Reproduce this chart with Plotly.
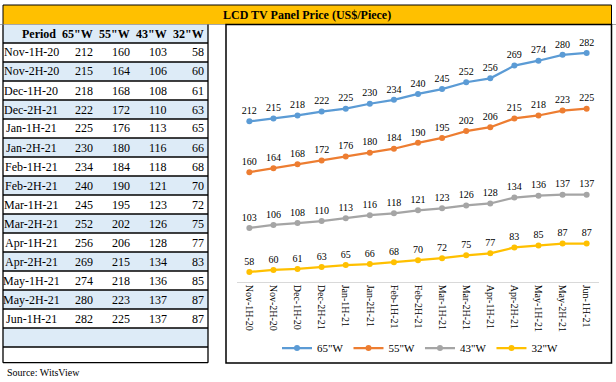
import plotly.graph_objects as go

W, H = 616, 382

periods = ["Nov-1H-20", "Nov-2H-20", "Dec-1H-20", "Dec-2H-21", "Jan-1H-21", "Jan-2H-21",
           "Feb-1H-21", "Feb-2H-21", "Mar-1H-21", "Mar-2H-21", "Apr-1H-21", "Apr-2H-21",
           "May-1H-21", "May-2H-21", "Jun-1H-21"]
series_names = ['65"W', '55"W', '43"W', '32"W']
v65 = [212, 215, 218, 222, 225, 230, 234, 240, 245, 252, 256, 269, 274, 280, 282]
v55 = [160, 164, 168, 172, 176, 180, 184, 190, 195, 202, 206, 215, 218, 223, 225]
v43 = [103, 106, 108, 110, 113, 116, 118, 121, 123, 126, 128, 134, 136, 137, 137]
v32 = [58, 60, 61, 63, 65, 66, 68, 70, 72, 75, 77, 83, 85, 87, 87]
colors = ["#5B9BD5", "#ED7D31", "#A5A5A5", "#FFC000"]
title_text = "LCD TV Panel Price (US$/Piece)"
source_text = "Source: WitsView"

SERIF = "Liberation Serif, Times New Roman, serif"


def px(x):
    return x / W


def py(y):
    return 1 - y / H


fig = go.Figure()
for name, vals, col in zip(series_names, [v65, v55, v43, v32], colors):
    fig.add_trace(go.Scatter(
        x=periods, y=vals, name=name, mode="lines+markers+text",
        line=dict(color=col, width=2.25),
        marker=dict(color=col, size=6),
        text=[str(v) for v in vals], textposition="top center",
        textfont=dict(family=SERIF, size=10, color="black"),
        cliponaxis=False,
    ))

shapes = []
annotations = []

# Banner
shapes.append(dict(type="rect", xref="paper", yref="paper",
                   x0=px(3), x1=px(611.5), y0=py(24.5), y1=py(5),
                   fillcolor="#FFC000", line=dict(color="black", width=1), layer="below"))
shapes.append(dict(type="line", xref="paper", yref="paper",
                   x0=0, x1=1, y0=py(24.5), y1=py(24.5),
                   line=dict(color="#A6A6A6", width=1)))
annotations.append(dict(xref="paper", yref="paper", x=px(307), y=py(15),
                        text="<b>" + title_text + "</b>", showarrow=False,
                        font=dict(family=SERIF, size=12, color="black"),
                        xanchor="center", yanchor="middle"))

# Table
tl, tr = 3, 208
header_top, header_bot = 24.5, 43
row_h = 19
nrows = len(periods) + 2
row_edges = [header_top, header_bot] + [header_bot + row_h * (i + 1) for i in range(nrows)]
row_edges[-1] = 362.7
blue = "#DDEBF7"
shapes.append(dict(type="rect", xref="paper", yref="paper", x0=px(tl), x1=px(tr),
                   y0=py(header_bot), y1=py(header_top), fillcolor=blue,
                   line=dict(width=0), layer="below"))
for i in range(nrows):
    y0, y1 = row_edges[i + 1], row_edges[i + 2]
    if i % 2 == 1:
        shapes.append(dict(type="rect", xref="paper", yref="paper", x0=px(tl), x1=px(tr),
                           y0=py(y1), y1=py(y0), fillcolor=blue,
                           line=dict(width=0), layer="below"))
for e in row_edges[1:]:
    shapes.append(dict(type="line", xref="paper", yref="paper", x0=px(tl), x1=px(tr),
                       y0=py(e), y1=py(e), line=dict(color="black", width=1.3)))
for xx in (tl, tr):
    shapes.append(dict(type="line", xref="paper", yref="paper", x0=px(xx), x1=px(xx),
                       y0=py(row_edges[-1]), y1=py(header_top),
                       line=dict(color="black", width=1.3)))

col_right = [94.5, 132, 168.5, 205.5]
hy = (header_top + header_bot) / 2
annotations.append(dict(xref="paper", yref="paper", x=px(57.5), y=py(hy), text="<b>Period</b>",
                        showarrow=False, xanchor="right", yanchor="middle",
                        font=dict(family=SERIF, size=12, color="black")))
for name, xr in zip(series_names, col_right):
    annotations.append(dict(xref="paper", yref="paper", x=px(xr), y=py(hy), text="<b>" + name + "</b>",
                            showarrow=False, xanchor="right", yanchor="middle",
                            font=dict(family=SERIF, size=12, color="black")))
for i, p in enumerate(periods):
    cy = (row_edges[i + 1] + row_edges[i + 2]) / 2
    annotations.append(dict(xref="paper", yref="paper", x=px(31), y=py(cy), text=p,
                            showarrow=False, xanchor="center", yanchor="middle",
                            font=dict(family=SERIF, size=12, color="black")))
    for vals, xr in zip([v65, v55, v43, v32], col_right):
        annotations.append(dict(xref="paper", yref="paper", x=px(xr), y=py(cy), text=str(vals[i]),
                                showarrow=False, xanchor="right", yanchor="middle",
                                font=dict(family=SERIF, size=12, color="black")))

# Chart box
shapes.append(dict(type="rect", xref="paper", yref="paper",
                   x0=px(226), x1=px(611.5), y0=py(363), y1=py(24.5),
                   fillcolor="rgba(0,0,0,0)", line=dict(color="black", width=1.5)))

annotations.append(dict(xref="paper", yref="paper", x=px(5), y=py(372), text=source_text,
                        showarrow=False, xanchor="left", yanchor="middle",
                        font=dict(family=SERIF, size=10, color="black")))

fig.update_layout(
    width=W, height=H,
    margin=dict(l=0, r=0, t=0, b=0),
    paper_bgcolor="white", plot_bgcolor="white",
    showlegend=True,
    legend=dict(orientation="h", x=px(420), xanchor="center", y=py(348), yanchor="middle",
                font=dict(family=SERIF, size=11, color="black"),
                bgcolor="rgba(0,0,0,0)", itemwidth=30, tracegroupgap=0),
    xaxis=dict(domain=[px(237.3), px(598.7)], range=[-0.5, len(periods) - 0.5],
               showline=True, linecolor="#D9D9D9", linewidth=1, showgrid=False,
               ticks="", tickangle=90, zeroline=False,
               tickfont=dict(family=SERIF, size=10, color="black")),
    yaxis=dict(domain=[py(281.7), py(35.3)], range=[48, 300], visible=False,
               showgrid=False, zeroline=False),
    shapes=shapes,
    annotations=annotations,
)

fig.write_html("out.html", config={"displayModeBar": False},
               post_script="document.body.style.margin='0';document.body.style.overflow='hidden';")
